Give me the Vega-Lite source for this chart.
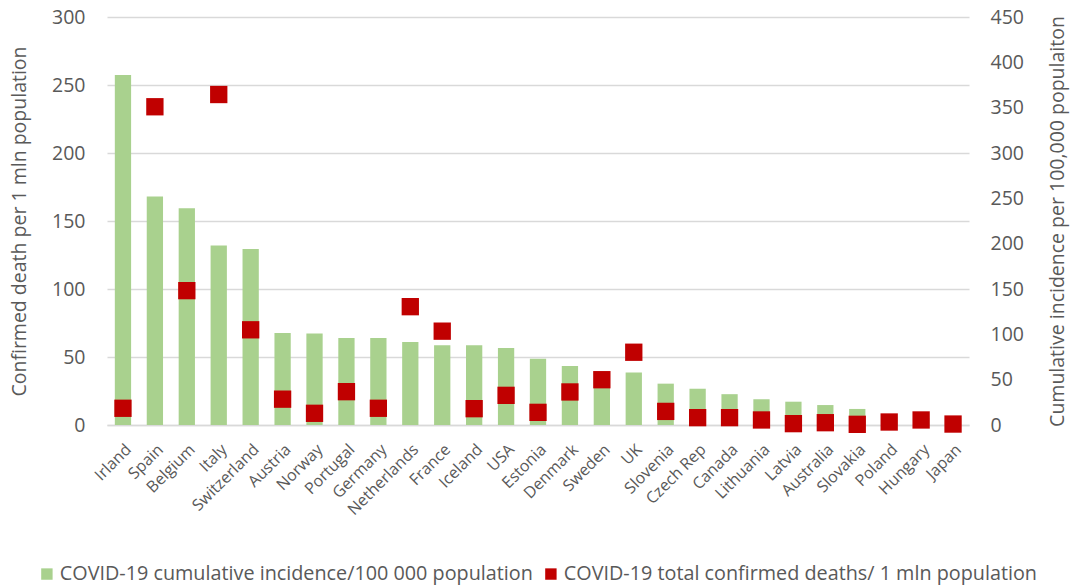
{
  "$schema": "https://vega.github.io/schema/vega-lite/v6.json",
  "autosize": {"type": "none"},
  "width": 862,
  "height": 408,
  "padding": {"left": 107, "top": 17, "right": 103, "bottom": 162},
  "background": "white",
  "config": {
    "view": {"stroke": null},
    "font": "Open Sans",
    "axis": {"labelColor": "#595959", "titleColor": "#595959", "labelFont": "Open Sans", "titleFont": "Open Sans", "titleFontWeight": "normal"}
  },
  "data": {
    "values": [
      {"country": "Irland", "incidence": 386, "deaths": 12.3},
      {"country": "Spain", "incidence": 252, "deaths": 234},
      {"country": "Belgium", "incidence": 239, "deaths": 98.8},
      {"country": "Italy", "incidence": 198, "deaths": 243},
      {"country": "Switzerland", "incidence": 194, "deaths": 70},
      {"country": "Austria", "incidence": 101.5, "deaths": 19},
      {"country": "Norway", "incidence": 101, "deaths": 8.6},
      {"country": "Portugal", "incidence": 96, "deaths": 24.5},
      {"country": "Germany", "incidence": 96, "deaths": 12.3},
      {"country": "Netherlands", "incidence": 91.6, "deaths": 87},
      {"country": "France", "incidence": 88, "deaths": 69},
      {"country": "Iceland", "incidence": 88, "deaths": 12},
      {"country": "USA", "incidence": 85, "deaths": 21.8},
      {"country": "Estonia", "incidence": 73, "deaths": 9.3},
      {"country": "Denmark", "incidence": 65, "deaths": 24.3},
      {"country": "Sweden", "incidence": 59, "deaths": 33.3},
      {"country": "UK", "incidence": 58, "deaths": 53.5},
      {"country": "Slovenia", "incidence": 45.6, "deaths": 10},
      {"country": "Czech Rep", "incidence": 40, "deaths": 5.4},
      {"country": "Canada", "incidence": 34, "deaths": 5.4},
      {"country": "Lithuania", "incidence": 28.4, "deaths": 3.7},
      {"country": "Latvia", "incidence": 25.7, "deaths": 1},
      {"country": "Australia", "incidence": 22, "deaths": 1.7},
      {"country": "Slovakia", "incidence": 17.7, "deaths": 0.5},
      {"country": "Poland", "incidence": 9, "deaths": 2.2},
      {"country": "Hungary", "incidence": 8, "deaths": 3.7},
      {"country": "Japan", "incidence": 8, "deaths": 0.7}
    ]
  },
  "encoding": {
    "x": {
      "field": "country", "type": "nominal", "sort": null,
      "scale": {"paddingInner": 0.49, "paddingOuter": 0.245},
      "axis": {"title": null, "labelAngle": -45, "labelFontSize": 16, "domainColor": "#d9d9d9", "domainWidth": 1.5, "ticks": false, "tickSize": 0, "labelPadding": 16}
    }
  },
  "layer": [
    {
      "mark": {"type": "bar", "color": "#A9D18E"},
      "encoding": {
        "y": {
          "field": "incidence", "type": "quantitative",
          "scale": {"domain": [0, 450], "nice": false},
          "axis": {"orient": "right", "values": [0, 50, 100, 150, 200, 250, 300, 350, 400, 450], "grid": false, "domain": false, "ticks": false, "tickSize": 0, "labelPadding": 21, "labelFontSize": 19.5, "title": "Cumulative incidence per 100,000 populaiton", "titleFontSize": 19.5, "titleAngle": -90, "titlePadding": 44}
        },
        "color": {
          "datum": "COVID-19 cumulative incidence/100 000 population",
          "type": "nominal",
          "scale": {"domain": ["COVID-19 cumulative incidence/100 000 population", "COVID-19 total confirmed deaths/ 1 mln population"], "range": ["#A9D18E", "#C00000"]},
          "legend": {
            "title": null, "orient": "none", "direction": "horizontal",
            "legendX": -70, "legendY": 547,
            "symbolType": "square", "symbolSize": 130, "symbolStrokeWidth": 0,
            "labelFontSize": 19.8, "labelColor": "#595959", "labelFont": "Open Sans", "labelLimit": 700,
            "labelOffset": 3, "columnPadding": 8
          }
        }
      }
    },
    {
      "mark": {"type": "point", "shape": "square", "filled": true, "opacity": 1, "size": 300},
      "encoding": {
        "y": {
          "field": "deaths", "type": "quantitative",
          "scale": {"domain": [0, 300], "nice": false},
          "axis": {"orient": "left", "values": [0, 50, 100, 150, 200, 250, 300], "grid": true, "gridColor": "#d9d9d9", "gridWidth": 1.5, "domain": false, "ticks": false, "tickSize": 0, "labelPadding": 22, "labelFontSize": 19.5, "title": "Confirmed death per 1 mln population", "titleFontSize": 19.5, "titlePadding": 22}
        },
        "color": {
          "datum": "COVID-19 total confirmed deaths/ 1 mln population",
          "type": "nominal"
        }
      }
    }
  ],
  "resolve": {"scale": {"y": "independent"}}
}
